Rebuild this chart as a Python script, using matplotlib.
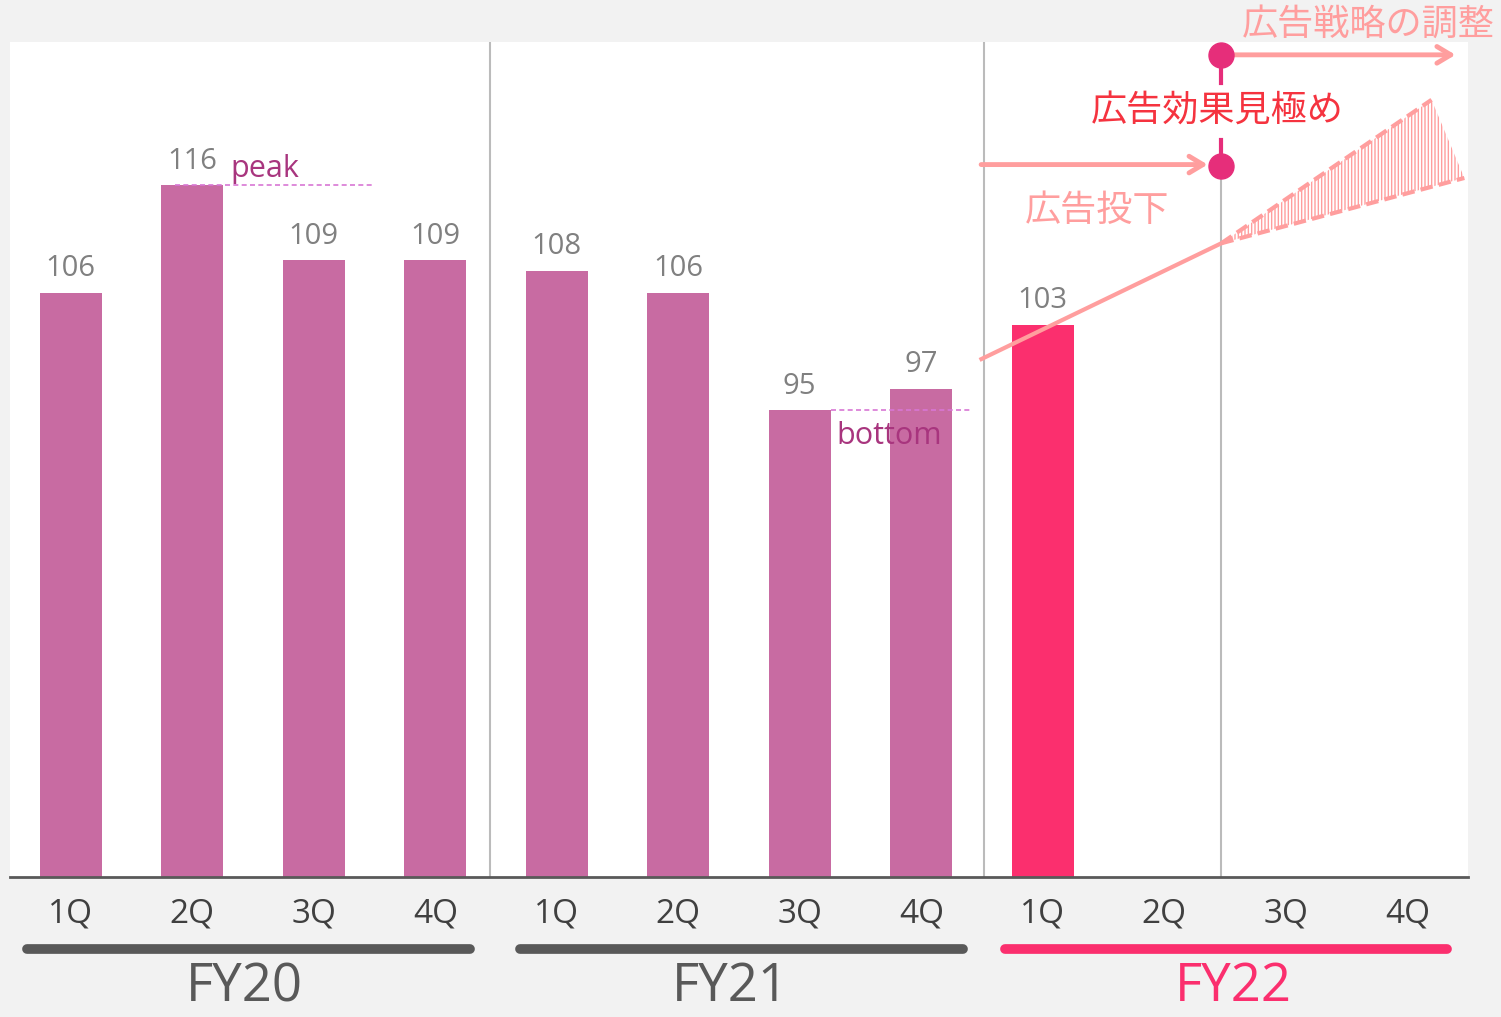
import numpy as np
import matplotlib
matplotlib.use("Agg")
import matplotlib.pyplot as plt
import matplotlib.transforms as mtransforms

plt.rcParams['font.family'] = ['Open Sans', 'Noto Sans CJK JP', 'DejaVu Sans']
plt.rcParams['hatch.color'] = "#FF9E9E"
plt.rcParams['hatch.linewidth'] = 1.0

# --- data ---
quarters = ["1Q", "2Q", "3Q", "4Q"] * 3
years = ["FY20", "FY21", "FY22"]
year_centers = [1.43, 5.43, 9.57]
values = [106, 116, 109, 109, 108, 106, 95, 97, 103]
peak_value = 116
bottom_value = 95
trend_start = 99.7
trend_mid = 110.6
trend_high = 124.0
trend_low = 116.7

BAR = "#C86BA2"
BAR_NOW = "#FB2F6E"
SALMON = "#FF9E9E"
DOT = "#E62E7A"
GRAY_LINE = "#BBBBBB"

fig = plt.figure(figsize=(15.01, 10.17), dpi=100)
fig.patch.set_facecolor("#F2F2F2")
ax = fig.add_axes([10 / 1501, 140 / 1017, 1458 / 1501, 835 / 1017])
ax.set_facecolor("white")
ax.set_xlim(-0.5, 11.5)
ax.set_ylim(51.4, 129.4)
for s in ax.spines.values():
    s.set_visible(False)
ax.set_xticks([])
ax.set_yticks([])

x = np.arange(len(values))
colors = [BAR] * 8 + [BAR_NOW]
ax.bar(x, values, width=0.51, color=colors, zorder=2)
for xi, v in zip(x, values):
    ax.text(xi, v + 0.9, str(v), ha="center", va="bottom", fontsize=21,
            color="#808080", zorder=5)

# baseline and separators
ax.axhline(51.4, color="#595959", lw=2, zorder=3, clip_on=False)
for sx in [3.45, 7.52]:
    ax.axvline(sx, color=GRAY_LINE, lw=1.5, zorder=1)
ax.plot([9.47, 9.47], [51.4, 117.8], color=GRAY_LINE, lw=1.5, zorder=1)

# peak / bottom markers
ax.plot([0.86, 2.5], [peak_value, peak_value], ls=(0, (3, 2)), color="#D877D4",
        lw=1.2, zorder=4)
ax.text(1.31, peak_value + 1.5, "peak", fontsize=22, color="#A8357E",
        ha="left", va="center", zorder=5)
ax.plot([6.26, 7.42], [bottom_value, bottom_value], ls=(0, (3, 2)),
        color="#D877D4", lw=1.2, zorder=4)
ax.text(6.3, bottom_value - 2.4, "bottom", fontsize=22, color="#A8357E",
        ha="left", va="center", zorder=5)

# trend line with projection cone
ax.plot([7.48, 9.47], [trend_start, trend_mid], color=SALMON, lw=3, zorder=4,
        solid_capstyle="butt")
ax.plot([9.47, 11.2], [trend_mid, trend_high], color=SALMON, lw=3,
        ls=(0, (3, 1.5)), zorder=4)
ax.plot([9.47, 11.47], [trend_mid, trend_low], color=SALMON, lw=3,
        ls=(0, (3, 1.5)), zorder=4)
cone_x = np.array([9.47, 11.2, 11.47])
cone_y = np.array([trend_mid, trend_high, trend_low])
ax.fill(cone_x, cone_y, facecolor="none", edgecolor=SALMON, hatch="|||||",
        lw=0, zorder=3)

# timeline: dots, arrows, labels
ax.plot([9.47, 9.47], [128.2, 125.6], color=DOT, lw=3, zorder=5)
ax.plot([9.47, 9.47], [120.2, 117.8], color=DOT, lw=3, zorder=5)
ax.plot([9.47], [128.2], "o", color=DOT, ms=18, zorder=6, clip_on=False)
ax.plot([9.47], [117.8], "o", color=DOT, ms=18, zorder=6, clip_on=False)
ax.annotate("", xy=(11.42, 128.2), xytext=(9.47, 128.2),
            arrowprops=dict(arrowstyle="->,head_length=1.0,head_width=0.6",
                            color=SALMON, lw=3.5), zorder=5,
            annotation_clip=False)
ax.annotate("", xy=(9.38, 117.95), xytext=(7.47, 117.95),
            arrowprops=dict(arrowstyle="->,head_length=1.0,head_width=0.6",
                            color=SALMON, lw=3.5), zorder=5)
ax.text(9.44, 122.9, "広告効果見極め", fontsize=26, color="#F5333F",
        ha="center", va="center", zorder=6)
ax.text(8.45, 113.5, "広告投下", fontsize=26, color=SALMON,
        ha="center", va="center", zorder=6)
ax.text(10.68, 130.9, "広告戦略の調整", fontsize=26, color=SALMON,
        ha="center", va="center", zorder=6, clip_on=False)

# category axis below
trans = mtransforms.blended_transform_factory(ax.transData, ax.transAxes)
for xi, q in enumerate(quarters):
    ax.text(xi, -0.044, q, transform=trans, ha="center", va="center",
            fontsize=24, color="#404040")
group_spans = [(-0.36, 3.29), (3.70, 7.34), (7.69, 11.33)]
group_colors = ["#595959", "#595959", BAR_NOW]
for (x0, x1), xc, yr, c in zip(group_spans, year_centers, years, group_colors):
    ax.plot([x0, x1], [-0.0862, -0.0862], transform=trans, color=c, lw=7,
            solid_capstyle="round", clip_on=False)
    ax.text(xc, -0.149, yr, transform=trans, ha="center",
            va="baseline", fontsize=38, color=c)

fig.savefig("out.png", dpi=100, facecolor=fig.get_facecolor())
